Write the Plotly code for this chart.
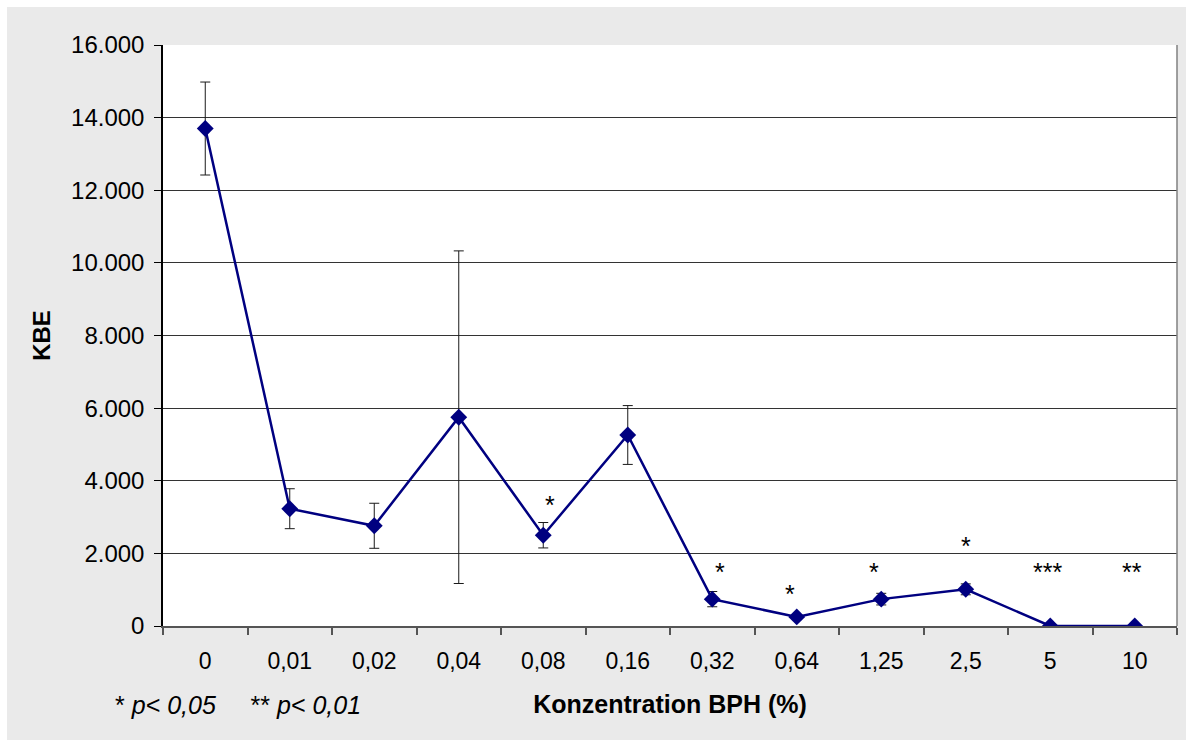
import plotly.graph_objects as go

# Koloniebildende Einheiten (KBE) je BPH-Konzentration
concentrations = ["0", "0,01", "0,02", "0,04", "0,08", "0,16",
                  "0,32", "0,64", "1,25", "2,5", "5", "10"]
kbe_mean = [13700, 3230, 2760, 5750, 2500, 5260, 740, 250, 740, 1010, 0, 0]
kbe_sd = [1280, 550, 620, 4580, 350, 810, 210, 50, 160, 150, 0, 0]
significance = ["", "", "", "", "*", "", "*", "*", "*", "*", "***", "**"]
star_y = [0, 0, 0, 0, 3330, 0, 1500, 870, 1500, 2200, 1500, 1500]
star_xshift = [0, 0, 0, 0, 7, 0, 8, -7, -7, 0, -3, -3]

y_ticks = [0, 2000, 4000, 6000, 8000, 10000, 12000, 14000, 16000]

W, H = 1186, 740
L, R, T, B = 163, 9, 45, 114
pw, ph = W - L - R, H - T - B

FONT = "Liberation Sans, Arial, sans-serif"

fig = go.Figure()
fig.add_trace(go.Scatter(
    x=concentrations, y=kbe_mean,
    mode="lines+markers",
    line=dict(color="#000080", width=2.5),
    marker=dict(symbol="diamond", size=13, color="#000080"),
    error_y=dict(type="data", array=kbe_sd, visible=True,
                 color="#1a1a1a", thickness=1, width=5),
    showlegend=False, hoverinfo="x+y",
))

annotations = []
for i, (s, yy, dx) in enumerate(zip(significance, star_y, star_xshift)):
    if s:
        annotations.append(dict(x=i, y=yy, xref="x", yref="y", text=s,
                                xshift=dx, showarrow=False, yanchor="middle",
                                font=dict(family=FONT, size=25, color="#000")))

annotations.append(dict(
    x=(113 - L) / pw, y=(H - 705 - B) / ph, xref="paper", yref="paper",
    xanchor="left", yanchor="middle", showarrow=False,
    text="* <i>p< 0,05</i>     ** <i>p< 0,01</i>",
    font=dict(family=FONT, size=25, color="#000")))

shapes = [
    # weißer Rand oben und links
    dict(type="rect", xref="paper", yref="paper", layer="above",
         x0=-L / pw - 0.01, x1=(W - L) / pw + 0.01,
         y0=(H - 7 - B) / ph, y1=(H - B) / ph + 0.01,
         fillcolor="white", line=dict(width=0)),
    dict(type="rect", xref="paper", yref="paper", layer="above",
         x0=-L / pw - 0.01, x1=(7 - L) / pw,
         y0=-B / ph - 0.01, y1=(H - B) / ph + 0.01,
         fillcolor="white", line=dict(width=0)),
    # rechter Rahmen der Zeichenfläche
    dict(type="line", xref="paper", yref="paper", x0=1, x1=1, y0=0, y1=1,
         line=dict(color="#808080", width=1.5)),
]

fig.update_layout(
    width=W, height=H,
    margin=dict(l=L, r=R, t=T, b=B, pad=0),
    paper_bgcolor="#eaeaea", plot_bgcolor="white",
    separators=",.",
    font=dict(family=FONT, size=23, color="#000"),
    shapes=shapes, annotations=annotations,
    xaxis=dict(
        type="category", tickson="boundaries", range=[-0.5, 11.5],
        ticks="outside", ticklen=7, tickcolor="#555", tickwidth=1.5,
        showline=True, linecolor="#555", linewidth=1.5,
        showgrid=False, zeroline=False,
        tickfont=dict(size=23), ticklabelstandoff=14,
        title=dict(text="<b>Konzentration BPH (%)</b>", font=dict(size=25), standoff=22),
    ),
    yaxis=dict(
        range=[0, 16000], tickvals=y_ticks, tickformat=",d",
        ticks="outside", ticklen=7, tickcolor="#000", tickwidth=1,
        showline=True, linecolor="#000", linewidth=1.5,
        showgrid=True, gridcolor="#333", gridwidth=1, zeroline=False,
        tickfont=dict(size=24), ticklabelstandoff=5,
        title=dict(text="<b>KBE</b>", font=dict(size=24), standoff=14),
    ),
)

fig.write_html("out.html")
